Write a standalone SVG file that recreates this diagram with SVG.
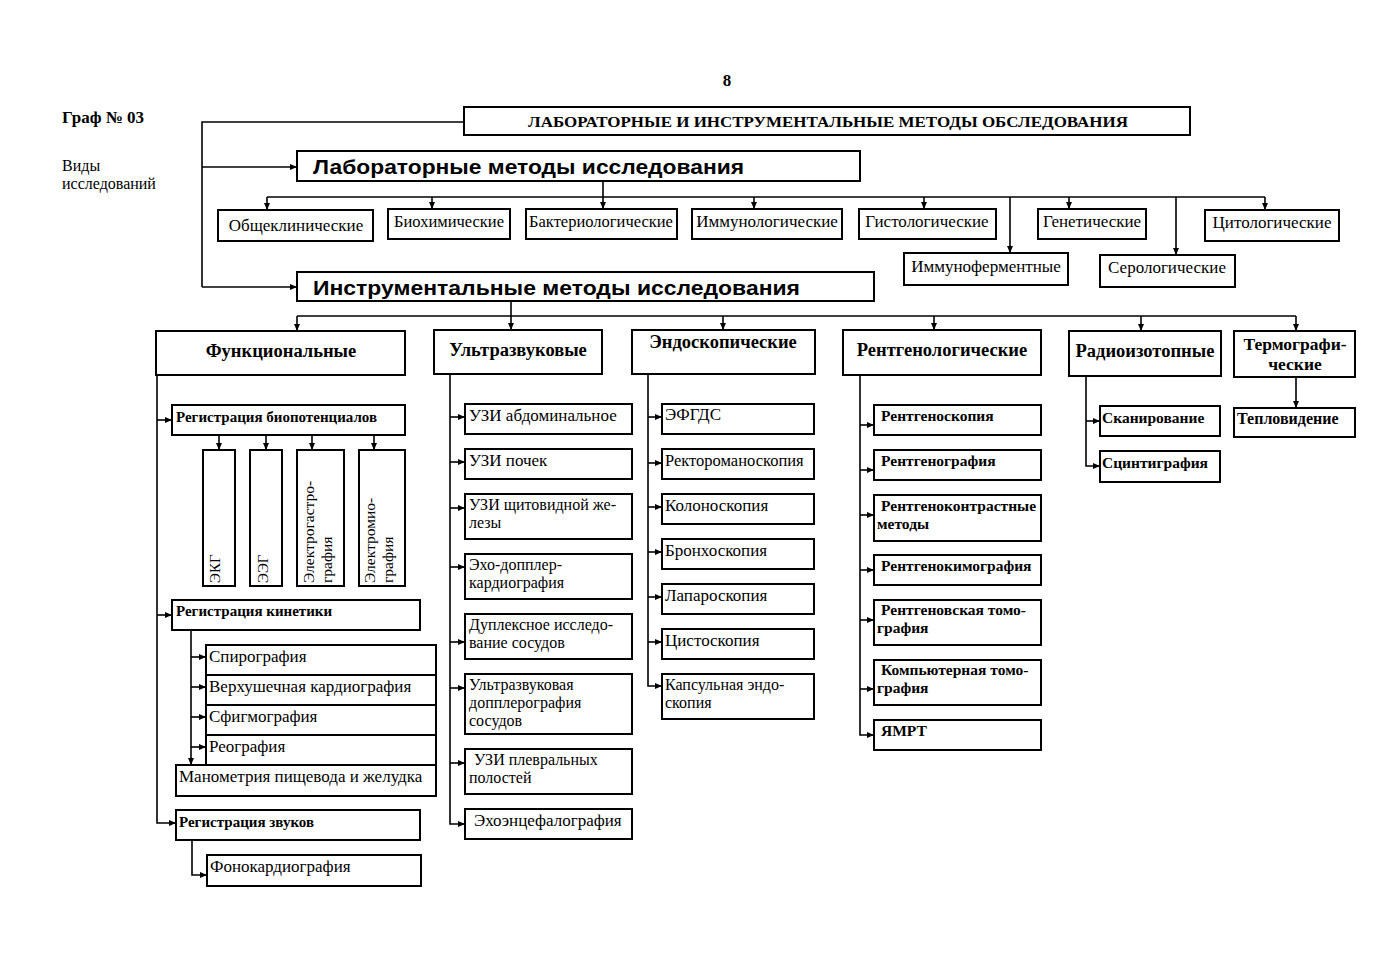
<svg xmlns="http://www.w3.org/2000/svg" width="1383" height="960" viewBox="0 0 1383 960">
<defs>
<marker id="ar" markerWidth="7" markerHeight="6" refX="7" refY="3" orient="auto" markerUnits="userSpaceOnUse"><path d="M0,0 L7,3 L0,6 z" fill="#000"/></marker>
<style>
.bx{fill:#fff;stroke:#000;stroke-width:2}
.ln{fill:none;stroke:#000;stroke-width:1.6}
.a{marker-end:url(#ar)}
text{font-family:"Liberation Serif","Times New Roman",serif;font-size:17px;fill:#000}
.b{font-weight:bold}
.c{text-anchor:middle}
.h{font-family:"Liberation Sans",Arial,sans-serif;font-weight:bold;font-size:21px}
.hd{font-weight:bold;font-size:18.5px}
.s{font-weight:bold;font-size:15px}
.r{font-size:15.5px}
.m{font-size:16px}
.x{font-weight:bold;font-size:15.5px}
</style>
</defs>
<rect width="1383" height="960" fill="#fff"/>

<text x="727" y="86" class="b c">8</text>
<text x="62" y="123" class="b">Граф № 03</text>
<text x="62" y="171" style="font-size:16px">Виды</text>
<text x="62" y="189" style="font-size:16px">исследований</text>

<g id="connectors">
<path class="ln" d="M464,122 H202 V287"/>
<path class="ln a" d="M202,167 H297"/>
<path class="ln a" d="M202,287 H297"/>
<path class="ln" d="M267,197 H1265"/>
<path class="ln a" d="M603,181 V209"/>
<path class="ln a" d="M267,197 V210"/>
<path class="ln a" d="M432,197 V209"/>
<path class="ln a" d="M754,197 V209"/>
<path class="ln a" d="M924,197 V209"/>
<path class="ln a" d="M1010,197 V253"/>
<path class="ln a" d="M1069,197 V209"/>
<path class="ln a" d="M1176,197 V255"/>
<path class="ln a" d="M1265,197 V210"/>
<path class="ln a" d="M511,301 V330"/>
<path class="ln" d="M297,316 H1296"/>
<path class="ln a" d="M297,316 V331"/>
<path class="ln a" d="M723,316 V330"/>
<path class="ln a" d="M934,316 V330"/>
<path class="ln a" d="M1141,316 V331"/>
<path class="ln a" d="M1296,316 V331"/>
<path class="ln a" d="M157,375 V823 H176"/>
<path class="ln a" d="M157,420 H172"/>
<path class="ln a" d="M157,615 H172"/>
<path class="ln a" d="M219,435 V450"/>
<path class="ln a" d="M266,435 V450"/>
<path class="ln a" d="M312,435 V450"/>
<path class="ln a" d="M374,435 V450"/>
<path class="ln a" d="M191,630 V765"/>
<path class="ln a" d="M191,657 H206"/>
<path class="ln a" d="M191,687 H206"/>
<path class="ln a" d="M191,717 H206"/>
<path class="ln a" d="M191,747 H206"/>
<path class="ln a" d="M192,840 V875 H207"/>
<path class="ln a" d="M450,374 V824 H465"/>
<path class="ln a" d="M450,417 H465"/>
<path class="ln a" d="M450,462 H465"/>
<path class="ln a" d="M450,508 H465"/>
<path class="ln a" d="M450,567 H465"/>
<path class="ln a" d="M450,642 H465"/>
<path class="ln a" d="M450,688 H465"/>
<path class="ln a" d="M450,763 H465"/>
<path class="ln a" d="M648,374 V686 H662"/>
<path class="ln a" d="M648,417 H662"/>
<path class="ln a" d="M648,463 H662"/>
<path class="ln a" d="M648,507 H662"/>
<path class="ln a" d="M648,552 H662"/>
<path class="ln a" d="M648,597 H662"/>
<path class="ln a" d="M648,642 H662"/>
<path class="ln a" d="M860,375 V735 H874"/>
<path class="ln a" d="M860,425 H874"/>
<path class="ln a" d="M860,470 H874"/>
<path class="ln a" d="M860,515 H874"/>
<path class="ln a" d="M860,570 H874"/>
<path class="ln a" d="M860,620 H874"/>
<path class="ln a" d="M860,689 H874"/>
<path class="ln a" d="M1086,376 V466 H1100"/>
<path class="ln a" d="M1086,421 H1100"/>
<path class="ln a" d="M1296,377 V408"/>
</g>

<g id="n-top"><rect class="bx" x="464" y="107" width="726" height="28"/><text x="828" y="127" class="b c" style="font-size:15px" textLength="600" lengthAdjust="spacingAndGlyphs">ЛАБОРАТОРНЫЕ И ИНСТРУМЕНТАЛЬНЫЕ МЕТОДЫ ОБСЛЕДОВАНИЯ</text></g>
<g id="n-lab"><rect class="bx" x="297" y="151" width="563" height="30"/><text x="313" y="174" class="h" textLength="431" lengthAdjust="spacingAndGlyphs">Лабораторные методы исследования</text></g>
<g id="n-obsh"><rect class="bx" x="218" y="210" width="155" height="31"/><text x="296" y="231" class="c">Общеклинические</text></g>
<g id="n-bio"><rect class="bx" x="388" y="209" width="122" height="30"/><text x="449" y="227" class="c" style="font-size:16.5px">Биохимические</text></g>
<g id="n-bakt"><rect class="bx" x="526" y="209" width="151" height="30"/><text x="601" y="227" class="c" style="font-size:16.5px">Бактериологические</text></g>
<g id="n-imm"><rect class="bx" x="692" y="209" width="150" height="30"/><text x="767" y="227" class="c">Иммунологические</text></g>
<g id="n-gist"><rect class="bx" x="859" y="209" width="137" height="30"/><text x="927" y="227" class="c">Гистологические</text></g>
<g id="n-gen"><rect class="bx" x="1038" y="209" width="108" height="30"/><text x="1092" y="227" class="c">Генетические</text></g>
<g id="n-cit"><rect class="bx" x="1205" y="210" width="134" height="31"/><text x="1272" y="228" class="c">Цитологические</text></g>
<g id="n-immf"><rect class="bx" x="904" y="253" width="164" height="32"/><text x="986" y="272" class="c">Иммуноферментные</text></g>
<g id="n-ser"><rect class="bx" x="1100" y="255" width="135" height="32"/><text x="1167" y="273" class="c">Серологические</text></g>
<g id="n-instr"><rect class="bx" x="297" y="272" width="577" height="29"/><text x="313" y="295" class="h" textLength="487" lengthAdjust="spacingAndGlyphs">Инструментальные методы исследования</text></g>

<g id="n-func"><rect class="bx" x="156" y="331" width="249" height="44"/><text x="281" y="357" class="hd c">Функциональные</text></g>
<g id="n-uz"><rect class="bx" x="434" y="330" width="168" height="44"/><text x="518" y="356" class="hd c">Ультразвуковые</text></g>
<g id="n-endo"><rect class="bx" x="632" y="330" width="183" height="44"/><text x="723" y="348" class="hd c">Эндоскопические</text></g>
<g id="n-rent"><rect class="bx" x="843" y="330" width="198" height="45"/><text x="942" y="356" class="hd c">Рентгенологические</text></g>
<g id="n-radio"><rect class="bx" x="1069" y="331" width="152" height="45"/><text x="1145" y="357" class="hd c">Радиоизотопные</text></g>
<g id="n-termo"><rect class="bx" x="1234" y="331" width="121" height="46"/><text x="1295" y="350" class="b c" style="font-size:17.5px">Термографи-</text><text x="1295" y="370" class="b c" style="font-size:17.5px">ческие</text></g>

<g id="n-biopot"><rect class="bx" x="172" y="405" width="233" height="30"/><text x="176" y="422" class="s">Регистрация биопотенциалов</text></g>
<g id="n-ekg"><rect class="bx" x="203" y="450" width="32" height="136"/><text transform="translate(220,583) rotate(-90)" style="font-size:15px">ЭКГ</text></g>
<g id="n-eeg"><rect class="bx" x="250" y="450" width="32" height="136"/><text transform="translate(268,583) rotate(-90)" style="font-size:15px">ЭЭГ</text></g>
<g id="n-egg"><rect class="bx" x="297" y="450" width="47" height="136"/><text transform="translate(314,583) rotate(-90)" class="r">Электрогастро-</text><text transform="translate(331.5,583) rotate(-90)" class="r">графия</text></g>
<g id="n-emg"><rect class="bx" x="359" y="450" width="46" height="136"/><text transform="translate(375,583) rotate(-90)" class="r">Электромио-</text><text transform="translate(392.5,583) rotate(-90)" class="r">графия</text></g>
<g id="n-kin"><rect class="bx" x="172" y="600" width="248" height="30"/><text x="176" y="616" class="s">Регистрация кинетики</text></g>
<g id="n-spiro"><rect class="bx" x="206" y="645" width="230" height="30"/><text x="209" y="662">Спирография</text></g>
<g id="n-verh"><rect class="bx" x="206" y="675" width="230" height="30"/><text x="209" y="692">Верхушечная кардиография</text></g>
<g id="n-sfig"><rect class="bx" x="206" y="705" width="230" height="30"/><text x="209" y="722">Сфигмография</text></g>
<g id="n-reo"><rect class="bx" x="206" y="735" width="230" height="30"/><text x="209" y="752">Реография</text></g>
<g id="n-mano"><rect class="bx" x="176" y="765" width="260" height="31"/><text x="179" y="782">Манометрия пищевода и желудка</text></g>
<g id="n-zvuk"><rect class="bx" x="176" y="810" width="244" height="30"/><text x="179" y="827" class="s">Регистрация звуков</text></g>
<g id="n-fono"><rect class="bx" x="207" y="855" width="214" height="31"/><text x="210" y="872">Фонокардиография</text></g>

<g id="n-uz1"><rect class="bx" x="465" y="404" width="167" height="30"/><text x="469" y="421">УЗИ абдоминальное</text></g>
<g id="n-uz2"><rect class="bx" x="465" y="449" width="167" height="30"/><text x="469" y="466">УЗИ почек</text></g>
<g id="n-uz3"><rect class="bx" x="465" y="494" width="167" height="45"/><text x="469" y="510" class="m">УЗИ щитовидной же-</text><text x="469" y="528" class="m">лезы</text></g>
<g id="n-uz4"><rect class="bx" x="465" y="554" width="167" height="45"/><text x="469" y="570" class="m">Эхо-допплер-</text><text x="469" y="588" class="m">кардиография</text></g>
<g id="n-uz5"><rect class="bx" x="465" y="614" width="167" height="45"/><text x="469" y="630" class="m">Дуплексное исследо-</text><text x="469" y="648" class="m">вание сосудов</text></g>
<g id="n-uz6"><rect class="bx" x="465" y="674" width="167" height="60"/><text x="469" y="690" class="m">Ультразвуковая</text><text x="469" y="708" class="m">допплерография</text><text x="469" y="726" class="m">сосудов</text></g>
<g id="n-uz7"><rect class="bx" x="465" y="749" width="167" height="45"/><text x="474" y="765" class="m">УЗИ плевральных</text><text x="469" y="783" class="m">полостей</text></g>
<g id="n-uz8"><rect class="bx" x="465" y="809" width="167" height="30"/><text x="474" y="826">Эхоэнцефалография</text></g>

<g id="n-en1"><rect class="bx" x="662" y="404" width="152" height="30"/><text x="665" y="420">ЭФГДС</text></g>
<g id="n-en2"><rect class="bx" x="662" y="449" width="152" height="30"/><text x="665" y="466" style="font-size:16.5px">Ректороманоскопия</text></g>
<g id="n-en3"><rect class="bx" x="662" y="494" width="152" height="30"/><text x="665" y="511">Колоноскопия</text></g>
<g id="n-en4"><rect class="bx" x="662" y="539" width="152" height="30"/><text x="665" y="556">Бронхоскопия</text></g>
<g id="n-en5"><rect class="bx" x="662" y="584" width="152" height="30"/><text x="665" y="601">Лапароскопия</text></g>
<g id="n-en6"><rect class="bx" x="662" y="629" width="152" height="30"/><text x="665" y="646">Цистоскопия</text></g>
<g id="n-en7"><rect class="bx" x="662" y="674" width="152" height="45"/><text x="665" y="690" class="m">Капсульная эндо-</text><text x="665" y="708" class="m">скопия</text></g>

<g id="n-r1"><rect class="bx" x="874" y="405" width="167" height="30"/><text x="881" y="421" class="x">Рентгеноскопия</text></g>
<g id="n-r2"><rect class="bx" x="874" y="450" width="167" height="30"/><text x="881" y="466" class="x">Рентгенография</text></g>
<g id="n-r3"><rect class="bx" x="874" y="495" width="167" height="46"/><text x="881" y="511" class="x">Рентгеноконтрастные</text><text x="877" y="529" class="x">методы</text></g>
<g id="n-r4"><rect class="bx" x="874" y="555" width="167" height="30"/><text x="881" y="571" class="x">Рентгенокимография</text></g>
<g id="n-r5"><rect class="bx" x="874" y="600" width="167" height="45"/><text x="881" y="615" class="x">Рентгеновская томо-</text><text x="877" y="633" class="x">графия</text></g>
<g id="n-r6"><rect class="bx" x="874" y="660" width="167" height="45"/><text x="881" y="675" class="x">Компьютерная томо-</text><text x="877" y="693" class="x">графия</text></g>
<g id="n-r7"><rect class="bx" x="874" y="720" width="167" height="30"/><text x="881" y="736" class="x">ЯМРТ</text></g>

<g id="n-scan"><rect class="bx" x="1100" y="406" width="120" height="30"/><text x="1102" y="423" class="x">Сканирование</text></g>
<g id="n-scint"><rect class="bx" x="1100" y="451" width="120" height="31"/><text x="1102" y="468" class="x">Сцинтиграфия</text></g>
<g id="n-teplo"><rect class="bx" x="1234" y="408" width="121" height="29"/><text x="1237" y="424" class="x" style="font-size:16px">Тепловидение</text></g>
</svg>
